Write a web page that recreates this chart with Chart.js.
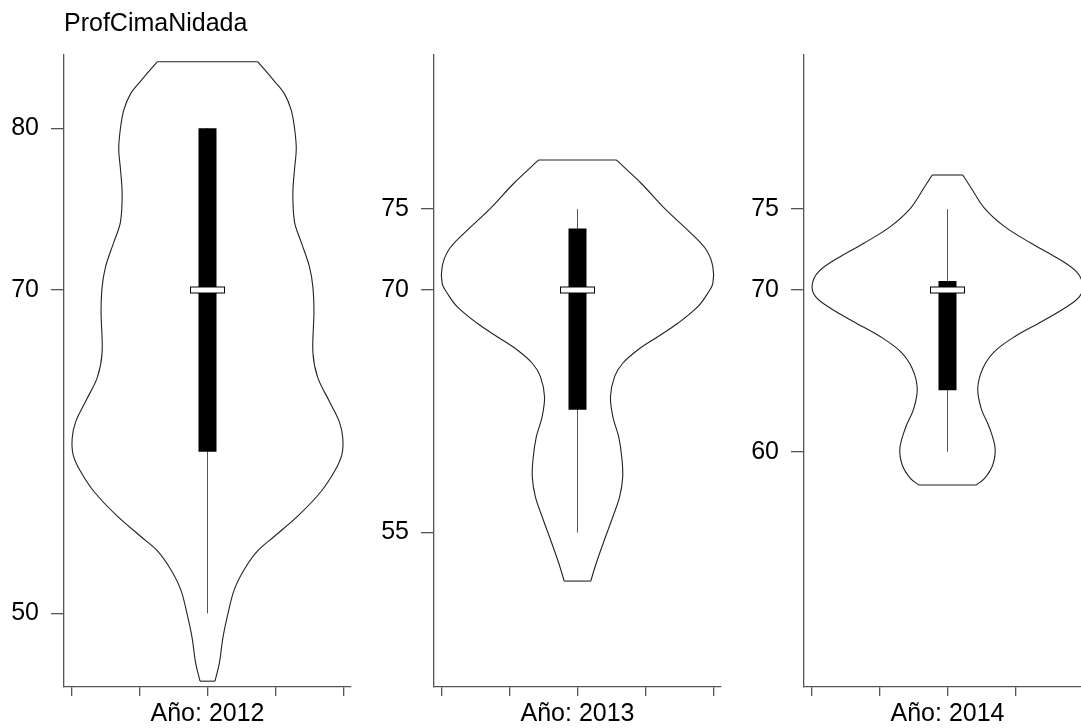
<!DOCTYPE html>
<html>
<head>
<meta charset="utf-8">
<title>ProfCimaNidada</title>
<script src="https://cdn.jsdelivr.net/npm/chart.js@4.4.1/dist/chart.umd.min.js"></script>
<style>
  html, body { margin: 0; padding: 0; background: #fff; overflow: hidden; }
  #wrap { position: relative; width: 1081px; height: 728px; overflow: hidden; }
  canvas { position: absolute; top: 0; }
</style>
</head>
<body>
<div id="wrap">
  <canvas id="c2012" width="370" height="728" style="left:0px"></canvas>
  <canvas id="c2013" width="370" height="728" style="left:370px"></canvas>
  <canvas id="c2014" width="370" height="728" style="left:740px"></canvas>
</div>
<script>
// Violin outline per year: depth levels and density half-widths (x units)
const years = ['2012', '2013', '2014'];

const levels2012 = [84.11, 82.9, 82.14, 81.14, 80.0, 78.74, 77.48, 75.96, 74.2, 72.93, 71.42, 70.16, 68.64, 66.12, 64.6, 63.09, 61.83, 60.82, 59.81, 58.8, 57.54, 56.03, 54.77, 53.88, 52.75, 51.49, 49.97, 48.46, 46.94, 45.81];
const widths2012 = [0.148, 0.197, 0.226, 0.246, 0.256, 0.261, 0.256, 0.251, 0.256, 0.276, 0.300, 0.310, 0.313, 0.310, 0.324, 0.359, 0.388, 0.398, 0.395, 0.374, 0.334, 0.266, 0.197, 0.148, 0.109, 0.079, 0.060, 0.045, 0.035, 0.022];

const levels2013 = [78.04, 76.6, 75.05, 73.5, 72.47, 71.44, 70.41, 69.8, 68.97, 67.94, 67.11, 66.29, 65.47, 64.64, 63.4, 62.16, 60.93, 59.69, 58.45, 57.22, 55.98, 54.54, 53.1, 52.0];
const widths2013 = [0.114, 0.187, 0.256, 0.334, 0.379, 0.398, 0.398, 0.383, 0.354, 0.295, 0.236, 0.177, 0.133, 0.109, 0.097, 0.104, 0.121, 0.130, 0.133, 0.124, 0.104, 0.079, 0.055, 0.039];

const levels2014 = [77.11, 76.29, 75.05, 73.92, 72.89, 71.96, 71.13, 70.31, 69.59, 68.87, 68.04, 67.11, 66.19, 65.16, 63.92, 62.68, 61.45, 60.21, 59.18, 58.35, 57.94];
const widths2014 = [0.045, 0.070, 0.109, 0.168, 0.246, 0.324, 0.379, 0.398, 0.388, 0.344, 0.276, 0.197, 0.138, 0.104, 0.089, 0.099, 0.124, 0.140, 0.133, 0.109, 0.084];

// Box statistics: [whisker min, Q1, median, Q3, whisker max]
const stats2012 = [50, 60, 70, 80, 80];
const stats2013 = [55, 62.6, 70, 73.8, 75];
const stats2014 = [60, 63.8, 70, 70.55, 75];

// Y tick labels shown on each panel
const ticks2012 = [50, 70, 80];
const ticks2013 = [55, 70, 75];
const ticks2014 = [60, 70, 75];

// Shared axis ranges
const yRange = [45.45, 84.53];
const xRange = [-0.422, 0.422];
const xTicks = [-0.4, -0.2, 0, 0.2, 0.4];
const medianHalfWidth = 0.0515;

const FONT = "'Liberation Sans', Arial, Helvetica, sans-serif";
const AXIS_COLOR = '#555';

function line(points, color, width, tension) {
  return {
    data: points,
    showLine: true,
    borderColor: color,
    borderWidth: width,
    borderCapStyle: 'butt',
    borderJoinStyle: 'round',
    pointRadius: 0,
    pointHoverRadius: 0,
    fill: false,
    tension: tension || 0
  };
}

function violinChart(canvasId, year, levels, widths, stats, yTicks, showTitle) {
  const [wMin, q1, med, q3, wMax] = stats;
  const last = levels.length - 1;
  const datasets = [
    // median marker: white bar with dark rim
    line([{x: -medianHalfWidth + 0.003, y: med}, {x: medianHalfWidth - 0.003, y: med}], '#ffffff', 5),
    line([{x: -medianHalfWidth, y: med}, {x: medianHalfWidth, y: med}], '#000000', 7),
    // interquartile box
    line([{x: 0, y: q1}, {x: 0, y: q3}], '#000000', 18),
    // whiskers
    line([{x: 0, y: wMin}, {x: 0, y: wMax}], '#555555', 1),
    // violin outline
    line(levels.map((v, i) => ({x: -widths[i], y: v})), '#222222', 1.1, 0.35),
    line(levels.map((v, i) => ({x: widths[i], y: v})), '#222222', 1.1, 0.35),
    line([{x: -widths[0], y: levels[0]}, {x: widths[0], y: levels[0]}], '#222222', 1.1),
    line([{x: -widths[last], y: levels[last]}, {x: widths[last], y: levels[last]}], '#222222', 1.1)
  ];

  return new Chart(document.getElementById(canvasId), {
    type: 'scatter',
    data: { datasets },
    options: {
      responsive: false,
      animation: false,
      devicePixelRatio: 1,
      layout: { padding: { top: showTitle ? 0 : 55, right: 19, bottom: 0, left: 0 } },
      plugins: {
        legend: { display: false },
        tooltip: { enabled: false },
        title: {
          display: showTitle,
          text: 'ProfCimaNidada',
          align: 'start',
          fullSize: false,
          color: '#000',
          font: { family: FONT, size: 25, weight: 'normal', lineHeight: 1.2 },
          padding: { top: 9, bottom: 16 }
        }
      },
      scales: {
        x: {
          type: 'linear',
          min: xRange[0],
          max: xRange[1],
          afterBuildTicks: s => { s.ticks = xTicks.map(v => ({value: v})); },
          afterFit: s => { s.height = 41; },
          ticks: { callback: () => '', padding: 0 },
          grid: { drawOnChartArea: false, drawTicks: true, tickLength: 9, color: AXIS_COLOR, lineWidth: 1.3 },
          border: { display: true, color: AXIS_COLOR, width: 1.3 },
          title: {
            display: true,
            text: 'Año: ' + year,
            color: '#000',
            font: { family: FONT, size: 25, lineHeight: 1.1 },
            padding: { top: 0, bottom: 0 }
          }
        },
        y: {
          type: 'linear',
          min: yRange[0],
          max: yRange[1],
          afterBuildTicks: s => { s.ticks = yTicks.map(v => ({value: v})); },
          afterFit: s => { s.width = 64; },
          ticks: { color: '#000', font: { family: FONT, size: 25 }, padding: 12, callback: v => String(v) },
          grid: { drawOnChartArea: false, drawTicks: true, tickLength: 13, color: AXIS_COLOR, lineWidth: 1.3 },
          border: { display: true, color: AXIS_COLOR, width: 1.3 }
        }
      }
    }
  });
}

violinChart('c2012', years[0], levels2012, widths2012, stats2012, ticks2012, true);
violinChart('c2013', years[1], levels2013, widths2013, stats2013, ticks2013, false);
violinChart('c2014', years[2], levels2014, widths2014, stats2014, ticks2014, false);
</script>
</body>
</html>
